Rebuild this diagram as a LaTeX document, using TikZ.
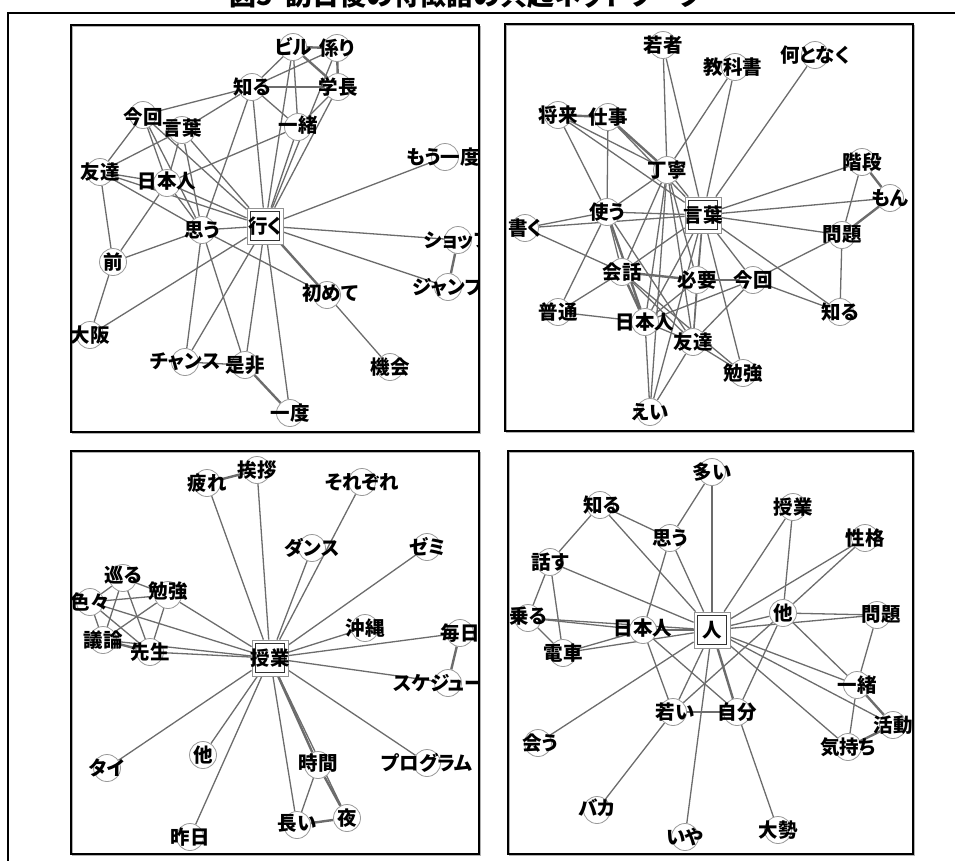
\documentclass[tikz,border=0pt]{standalone}
\usepackage{fontspec}
\newfontfamily\jp{Noto Sans CJK JP}[RawFeature=+palt]
\pgfdeclarelayer{edges}
\pgfsetlayers{edges,main}
\tikzset{
  dot/.style={circle, draw=gray!80, fill=white, minimum size=27pt, inner sep=0pt, line width=0.8pt},
  hub/.style={rectangle, draw=gray!85, fill=white, line width=0.8pt, minimum size=36pt, inner sep=0pt,
    path picture={\draw[black!80, line width=0.8pt] ([shift={(3.2pt,3.2pt)}]path picture bounding box.south west) rectangle ([shift={(-3.2pt,-3.2pt)}]path picture bounding box.north east);}},
  e/.style={draw=gray!85!black, line width=1.3pt},
  ek/.style={draw=gray!85!black, line width=2.4pt},
  lbl/.style={inner sep=0pt, font=\jp\bfseries\fontsize{19.5}{19.5}\selectfont},
  frame/.style={draw=black, line width=1.5pt},
  shadow/.style={draw=gray!60, line width=1pt}
}
\begin{document}
\begin{tikzpicture}[x=1pt,y=-1pt]
\useasboundingbox (0,0) rectangle (955,860);
% title and outer frame
\node[anchor=base, inner sep=0pt, font=\jp\bfseries\fontsize{27}{27}\selectfont] (title) at (466,5) {図5\hspace{0.45em}訪日後の特徴語の共起ネットワーク};
\draw[line width=2pt] (8,870) -- (8,13) -- (965,13);
% panel frames
\foreach \x/\y/\X/\Y in {71/25/479/432, 505/24/913/431, 71/451/479/854, 508/451/913/854}{
  \draw[shadow] (\x+1.2,\y+1.2) rectangle (\X+1.2,\Y+1.2);
  \draw[frame] (\x,\y) rectangle (\X,\Y);
}
% ---------------- panel 1
\node[dot] (a-biru) at (293,47) {};
\node[dot] (a-kakari) at (337,48) {};
\node[dot] (a-shiru) at (252,87) {};
\node[dot] (a-gakucho) at (338,87) {};
\node[dot] (a-konkai) at (143,115) {};
\node[dot] (a-kotoba) at (182,130) {};
\node[dot] (a-issho) at (298,127) {};
\node[dot] (a-moichido) at (445,157) {};
\node[dot] (a-tomo) at (100,172) {};
\node[dot] (a-nihon) at (167,183) {};
\node[hub] (a-iku) at (265,226) {};
\node[dot] (a-omou) at (202,230) {};
\node[dot] (a-shop) at (458,240) {};
\node[dot] (a-mae) at (113,262) {};
\node[dot] (a-jump) at (448,287) {};
\node[dot] (a-hajime) at (327,295) {};
\node[dot] (a-osaka) at (90,335) {};
\node[dot] (a-chance) at (185,362) {};
\node[dot] (a-zehi) at (245,365) {};
\node[dot] (a-kikai) at (390,367) {};
\node[dot] (a-ichido) at (290,413) {};
\begin{pgfonlayer}{edges}
\foreach \u/\v in {biru/kakari, biru/gakucho, kakari/gakucho, iku/hajime, shop/jump, zehi/ichido}
  \draw[ek] (a-\u) -- (a-\v);
\foreach \u/\v in {shiru/biru, shiru/kakari, shiru/gakucho, shiru/issho, shiru/konkai, shiru/kotoba, shiru/omou, shiru/iku,
  biru/issho, biru/iku, kakari/iku, gakucho/iku, gakucho/issho, issho/iku, issho/nihon,
  konkai/tomo, konkai/nihon, konkai/omou, konkai/iku, kotoba/tomo, kotoba/nihon, kotoba/omou, kotoba/iku,
  tomo/nihon, tomo/omou, tomo/iku, tomo/mae, nihon/omou, nihon/iku, nihon/mae,
  omou/iku, omou/mae, omou/chance, omou/zehi, omou/hajime,
  iku/moichido, iku/shop, iku/jump, iku/osaka, iku/chance, iku/zehi, iku/ichido,
  mae/osaka, hajime/kikai, chance/zehi}
  \draw[e] (a-\u) -- (a-\v);
\end{pgfonlayer}
% ---------------- panel 2
\node[dot] (b-wakamono) at (663,45) {};
\node[dot] (b-kyoka) at (735,67) {};
\node[dot] (b-nanto) at (815,55) {};
\node[dot] (b-shorai) at (558,115) {};
\node[dot] (b-shigoto) at (608,117) {};
\node[dot] (b-teinei) at (667,170) {};
\node[dot] (b-kaidan) at (862,162) {};
\node[dot] (b-mon) at (890,198) {};
\node[hub] (b-kotoba) at (703,215) {};
\node[dot] (b-tsukau) at (607,212) {};
\node[dot] (b-kaku) at (525,228) {};
\node[dot] (b-mondai) at (842,235) {};
\node[dot] (b-kaiwa) at (622,272) {};
\node[dot] (b-hitsuyo) at (697,280) {};
\node[dot] (b-konkai) at (753,280) {};
\node[dot] (b-futsu) at (558,312) {};
\node[dot] (b-shiru) at (840,312) {};
\node[dot] (b-nihon) at (645,322) {};
\node[dot] (b-tomo) at (693,342) {};
\node[dot] (b-benkyo) at (743,373) {};
\node[dot] (b-ei) at (650,412) {};
\begin{pgfonlayer}{edges}
\foreach \u/\v in {shorai/shigoto, shigoto/teinei, kaidan/mon, kaiwa/hitsuyo, hitsuyo/konkai, kaiwa/nihon, tsukau/nihon, mon/mondai}
  \draw[ek] (b-\u) -- (b-\v);
\foreach \u/\v in {wakamono/teinei, wakamono/kotoba, kyoka/teinei, kyoka/kotoba, nanto/kotoba,
  shorai/teinei, shorai/kotoba, shorai/tsukau, shigoto/tsukau, shigoto/kotoba,
  teinei/tsukau, teinei/kotoba, teinei/kaiwa, teinei/nihon, teinei/hitsuyo, teinei/tomo, teinei/ei,
  kaidan/kotoba, kaidan/mondai, mon/kotoba,
  tsukau/kotoba, tsukau/kaku, tsukau/futsu, tsukau/kaiwa, tsukau/tomo,
  kaku/kotoba, kaku/kaiwa, mondai/kotoba, mondai/konkai, mondai/shiru,
  kotoba/kaiwa, kotoba/hitsuyo, kotoba/konkai, kotoba/nihon, kotoba/tomo, kotoba/benkyo, kotoba/shiru, kotoba/ei,
  kaiwa/futsu, kaiwa/tomo, kaiwa/benkyo, hitsuyo/nihon, hitsuyo/tomo,
  konkai/nihon, konkai/tomo, konkai/shiru, futsu/nihon, nihon/tomo, nihon/ei, tomo/benkyo, tomo/ei}
  \draw[e] (b-\u) -- (b-\v);
\end{pgfonlayer}
% ---------------- panel 3
\node[dot] (c-tsukare) at (207,483) {};
\node[dot] (c-aisatsu) at (257,470) {};
\node[dot] (c-sorezore) at (362,482) {};
\node[dot] (c-dance) at (312,548) {};
\node[dot] (c-zemi) at (427,547) {};
\node[dot] (c-meguru) at (123,578) {};
\node[dot] (c-iroiro) at (90,602) {};
\node[dot] (c-benkyo) at (168,595) {};
\node[dot] (c-okinawa) at (365,628) {};
\node[dot] (c-mainichi) at (460,633) {};
\node[dot] (c-giron) at (103,640) {};
\node[dot] (c-sensei) at (150,652) {};
\node[hub] (c-jugyo) at (270,658) {};
\node[dot] (c-sched) at (448,683) {};
\node[dot] (c-hoka) at (203,755) {};
\node[dot] (c-tai) at (107,768) {};
\node[dot] (c-jikan) at (318,765) {};
\node[dot] (c-program) at (427,763) {};
\node[dot] (c-yoru) at (347,818) {};
\node[dot] (c-nagai) at (297,825) {};
\node[dot] (c-kinou) at (190,837) {};
\begin{pgfonlayer}{edges}
\foreach \u/\v in {tsukare/aisatsu, giron/sensei, mainichi/sched, jikan/yoru, nagai/yoru, jugyo/jikan}
  \draw[ek] (c-\u) -- (c-\v);
\foreach \u/\v in {tsukare/jugyo, aisatsu/jugyo, sorezore/jugyo, dance/jugyo, zemi/jugyo,
  meguru/iroiro, meguru/benkyo, meguru/giron, meguru/sensei,
  iroiro/benkyo, iroiro/giron, iroiro/sensei, iroiro/jugyo,
  benkyo/giron, benkyo/sensei, benkyo/jugyo, giron/jugyo, sensei/jugyo,
  okinawa/jugyo, mainichi/jugyo, sched/jugyo,
  jugyo/tai, jugyo/hoka, jugyo/kinou, jugyo/nagai, jugyo/yoru, jugyo/program, jikan/nagai}
  \draw[e] (c-\u) -- (c-\v);
\end{pgfonlayer}
% ---------------- panel 4
\node[dot] (d-ooi) at (712,472) {};
\node[dot] (d-shiru) at (600,505) {};
\node[dot] (d-jugyo) at (793,507) {};
\node[dot] (d-omou) at (670,538) {};
\node[dot] (d-seikaku) at (865,538) {};
\node[dot] (d-hanasu) at (550,562) {};
\node[dot] (d-noru) at (528,618) {};
\node[dot] (d-hoka) at (783,613) {};
\node[dot] (d-mondai) at (877,615) {};
\node[dot] (d-nihon) at (643,630) {};
\node[hub] (d-hito) at (712,630) {};
\node[dot] (d-densha) at (563,653) {};
\node[dot] (d-issho) at (857,685) {};
\node[dot] (d-wakai) at (673,712) {};
\node[dot] (d-jibun) at (737,712) {};
\node[dot] (d-katsudo) at (893,725) {};
\node[dot] (d-au) at (538,743) {};
\node[dot] (d-kimochi) at (848,747) {};
\node[dot] (d-baka) at (597,810) {};
\node[dot] (d-iya) at (685,837) {};
\node[dot] (d-ozei) at (778,830) {};
\begin{pgfonlayer}{edges}
\foreach \u/\v in {issho/katsudo, kimochi/katsudo, hito/jibun}
  \draw[ek] (d-\u) -- (d-\v);
\foreach \u/\v in {ooi/omou, ooi/hito, shiru/omou, shiru/hanasu, shiru/hito, omou/hito, omou/nihon,
  jugyo/hito, jugyo/hoka, seikaku/hito, seikaku/hoka,
  hanasu/noru, hanasu/densha, hanasu/hito, noru/nihon, noru/hito, noru/densha,
  densha/nihon, densha/hito, nihon/hito, nihon/wakai, nihon/jibun,
  hito/hoka, hito/mondai, hoka/mondai, hoka/issho, hoka/wakai, hoka/jibun,
  mondai/issho, hito/issho, hito/katsudo, hito/kimochi, hito/wakai, hito/iya, hito/au,
  issho/kimochi, wakai/jibun, wakai/baka, jibun/ozei}
  \draw[e] (d-\u) -- (d-\v);
\end{pgfonlayer}
% ---------------- labels (clipped to each panel)
\begin{scope}
\clip (71,25) rectangle (479,432);
\node[lbl] at (a-biru) {ビル};
\node[lbl] at (a-kakari) {係り};
\node[lbl] at (a-shiru) {知る};
\node[lbl] at (a-gakucho) {学長};
\node[lbl] at ([yshift=-2pt]a-konkai) {今回};
\node[lbl] at ([yshift=2pt]a-kotoba) {言葉};
\node[lbl] at ([yshift=2pt]a-issho) {一緒};
\node[lbl] at ([xshift=-2pt]a-moichido) {もう一度};
\node[lbl] at (a-tomo) {友達};
\node[lbl] at ([yshift=2pt]a-nihon) {日本人};
\node[lbl] at (a-iku) {行く};
\node[lbl] at (a-omou) {思う};
\node[lbl] at (a-shop) {ショップ};
\node[lbl] at (a-mae) {前};
\node[lbl] at (a-jump) {ジャンプ};
\node[lbl] at ([xshift=3pt,yshift=2pt]a-hajime) {初めて};
\node[lbl] at (a-osaka) {大阪};
\node[lbl] at (a-chance) {チャンス};
\node[lbl] at (a-zehi) {是非};
\node[lbl] at (a-kikai) {機会};
\node[lbl] at (a-ichido) {一度};
\end{scope}
\begin{scope}
\clip (505,24) rectangle (913,431);
\node[lbl] at (b-wakamono) {若者};
\node[lbl] at ([xshift=-2pt]b-kyoka) {教科書};
\node[lbl] at (b-nanto) {何となく};
\node[lbl] at (b-shorai) {将来};
\node[lbl] at (b-shigoto) {仕事};
\node[lbl] at (b-teinei) {丁寧};
\node[lbl] at (b-kaidan) {階段};
\node[lbl] at (b-mon) {もん};
\node[lbl] at (b-kotoba) {言葉};
\node[lbl] at (b-tsukau) {使う};
\node[lbl] at (b-kaku) {書く};
\node[lbl] at (b-mondai) {問題};
\node[lbl] at (b-kaiwa) {会話};
\node[lbl] at (b-hitsuyo) {必要};
\node[lbl] at (b-konkai) {今回};
\node[lbl] at (b-futsu) {普通};
\node[lbl] at (b-shiru) {知る};
\node[lbl] at (b-nihon) {日本人};
\node[lbl] at (b-tomo) {友達};
\node[lbl] at (b-benkyo) {勉強};
\node[lbl] at (b-ei) {えい};
\end{scope}
\begin{scope}
\clip (71,451) rectangle (479,854);
\node[lbl] at (c-tsukare) {疲れ};
\node[lbl] at (c-aisatsu) {挨拶};
\node[lbl] at (c-sorezore) {それぞれ};
\node[lbl] at (c-dance) {ダンス};
\node[lbl] at (c-zemi) {ゼミ};
\node[lbl] at ([yshift=3pt]c-meguru) {巡る};
\node[lbl] at (c-iroiro) {色々};
\node[lbl] at ([yshift=4pt]c-benkyo) {勉強};
\node[lbl] at (c-okinawa) {沖縄};
\node[lbl] at (c-mainichi) {毎日};
\node[lbl] at (c-giron) {議論};
\node[lbl] at (c-sensei) {先生};
\node[lbl] at (c-jugyo) {授業};
\node[lbl] at (c-sched) {スケジュール};
\node[lbl] at (c-hoka) {他};
\node[lbl] at (c-tai) {タイ};
\node[lbl] at ([yshift=2pt]c-jikan) {時間};
\node[lbl] at (c-program) {プログラム};
\node[lbl] at (c-yoru) {夜};
\node[lbl] at ([yshift=2pt]c-nagai) {長い};
\node[lbl] at (c-kinou) {昨日};
\end{scope}
\begin{scope}
\clip (508,451) rectangle (913,854);
\node[lbl] at (d-ooi) {多い};
\node[lbl] at ([xshift=2pt]d-shiru) {知る};
\node[lbl] at (d-jugyo) {授業};
\node[lbl] at (d-omou) {思う};
\node[lbl] at (d-seikaku) {性格};
\node[lbl] at (d-hanasu) {話す};
\node[lbl] at ([yshift=2pt]d-noru) {乗る};
\node[lbl] at (d-hoka) {他};
\node[lbl] at ([xshift=4pt]d-mondai) {問題};
\node[lbl] at ([yshift=2pt]d-nihon) {日本人};
\node[lbl] at (d-hito) {人};
\node[lbl] at (d-densha) {電車};
\node[lbl] at (d-issho) {一緒};
\node[lbl] at ([xshift=2pt]d-wakai) {若い};
\node[lbl] at (d-jibun) {自分};
\node[lbl] at (d-katsudo) {活動};
\node[lbl] at ([xshift=2pt]d-au) {会う};
\node[lbl] at (d-kimochi) {気持ち};
\node[lbl] at ([yshift=2pt]d-baka) {バカ};
\node[lbl] at (d-iya) {いや};
\node[lbl] at (d-ozei) {大勢};
\end{scope}
\end{tikzpicture}
\end{document}
